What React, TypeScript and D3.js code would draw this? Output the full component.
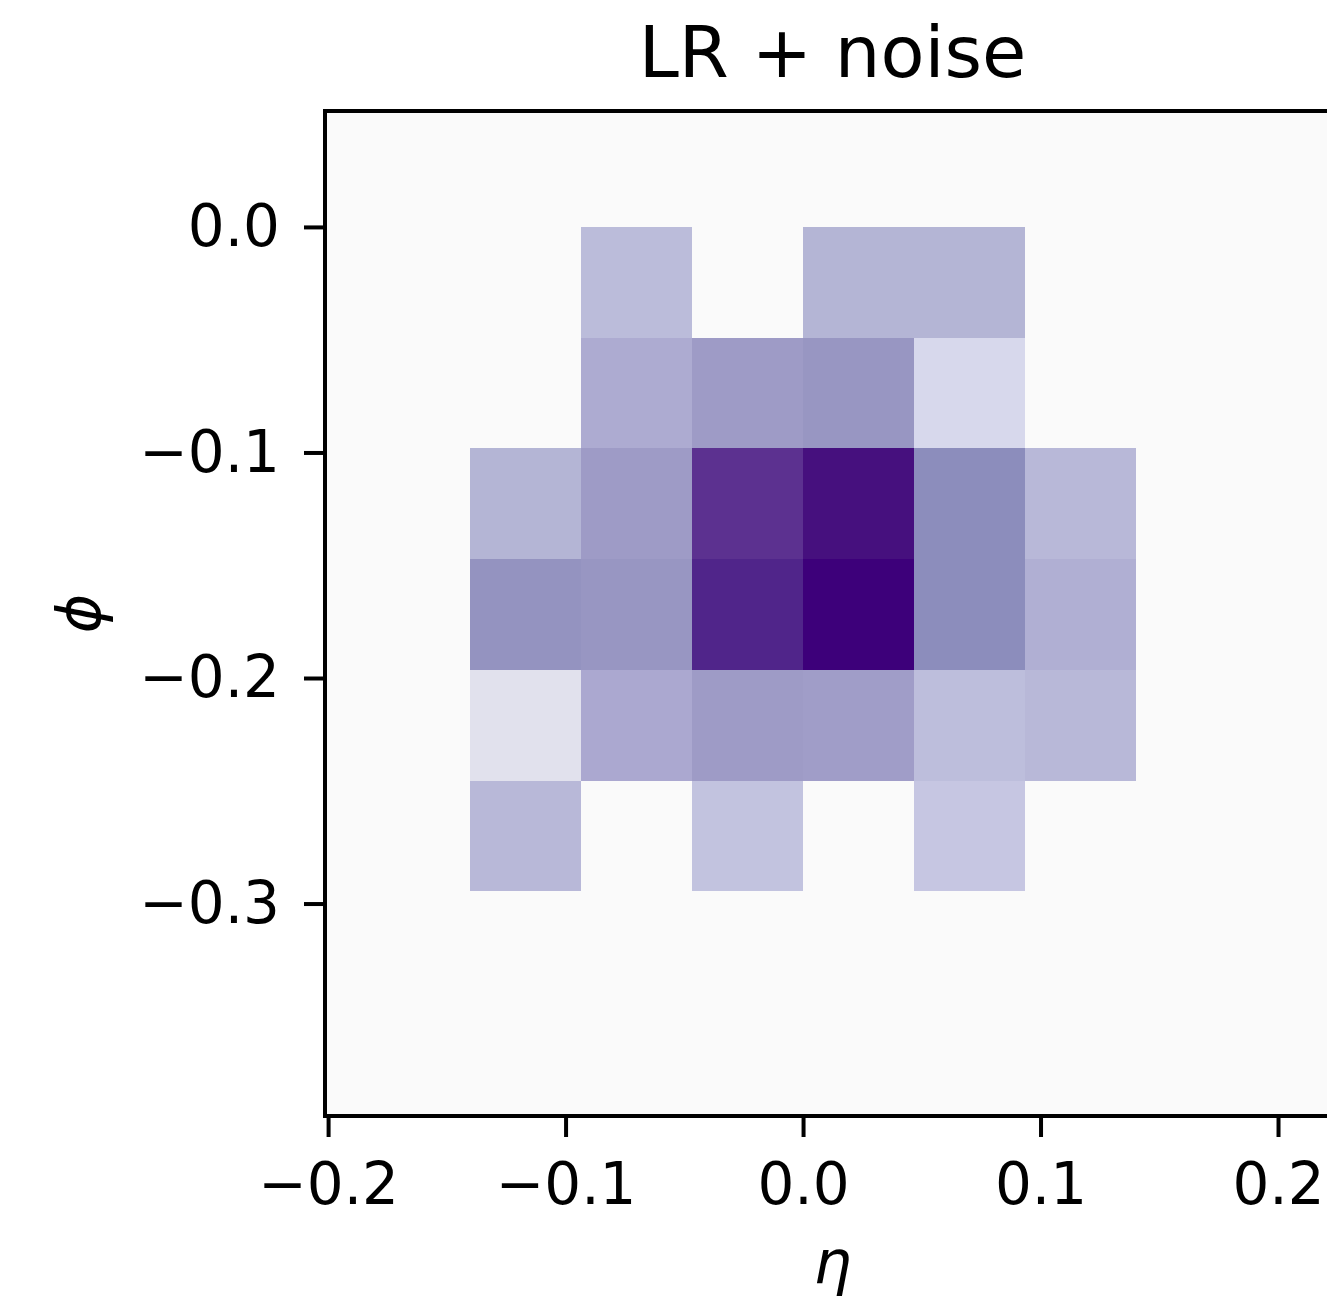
import React, { useRef, useEffect } from 'react';
import * as d3 from 'd3';

// bin centres of the histogram (eta across, phi down)
const etaCenters = [-0.117, -0.070, -0.0235, 0.0233, 0.070, 0.117];
const phiCenters = [-0.0245, -0.0736, -0.1227, -0.1718, -0.2209, -0.27];
const etaBin = 0.0467;
const phiBin = 0.0491;

// normalised intensity, one array per phi row (top to bottom), 0 = empty bin
const row0 = [0, 0.36, 0, 0.4, 0.4, 0];
const row1 = [0, 0.48, 0.57, 0.6, 0.2, 0];
const row2 = [0.4, 0.57, 0.8, 0.94, 0.66, 0.38];
const row3 = [0.62, 0.6, 0.88, 1.0, 0.66, 0.45];
const row4 = [0.1, 0.5, 0.57, 0.56, 0.35, 0.38];
const row5 = [0.38, 0, 0.32, 0, 0.3, 0];
const intensity = [row0, row1, row2, row3, row4, row5];

const xTicks = [-0.2, -0.1, 0.0, 0.1, 0.2];
const yTicks = [0.0, -0.1, -0.2, -0.3];
const etaRange = [-0.2013, 0.2261];
const phiRange = [-0.3942, 0.0514];

const title = 'LR + noise';
const xLabel = 'η';
const yLabel = 'ϕ';

const App: React.FC = () => {
  const svgRef = useRef<SVGSVGElement>(null);

  useEffect(() => {
    if (!svgRef.current) return;
    const root = d3.select(svgRef.current);
    root.selectAll('*').remove();

    const margin = { top: 111, left: 325 };
    const width = 1015;
    const height = 1005;
    const font = 'DejaVu Sans, sans-serif';

    const x = d3.scaleLinear().domain(etaRange).range([0, width]);
    const y = d3.scaleLinear().domain(phiRange).range([height, 0]);

    const colour = d3
      .scaleLinear<string>()
      .domain([0, 0.1, 0.2, 0.3, 0.4, 0.5, 0.6, 0.66, 0.8, 0.88, 0.94, 1])
      .range([
        '#fafafa', '#e1e1ed', '#d7d8ec', '#c6c6e2', '#b4b5d5', '#aba8d0',
        '#9896c2', '#8c8dbc', '#5c3190', '#50258a', '#46107e', '#3d007a'
      ])
      .interpolate(d3.interpolateRgb)
      .clamp(true);

    const g = root
      .append('g')
      .attr('transform', 'translate(' + margin.left + ',' + margin.top + ')');

    // background = empty bins
    g.append('rect')
      .attr('width', width)
      .attr('height', height)
      .attr('fill', colour(0));

    const cells = intensity.flatMap((row, i) =>
      row.map((v, j) => ({ eta: etaCenters[j], phi: phiCenters[i], v }))
    ).filter((d) => d.v > 0);

    g.selectAll('rect.cell')
      .data(cells)
      .enter()
      .append('rect')
      .attr('class', 'cell')
      .attr('x', (d) => x(d.eta - etaBin / 2))
      .attr('y', (d) => y(d.phi + phiBin / 2))
      .attr('width', (d) => x(d.eta + etaBin / 2) - x(d.eta - etaBin / 2))
      .attr('height', (d) => y(d.phi - phiBin / 2) - y(d.phi + phiBin / 2))
      .attr('fill', (d) => colour(d.v))
      .attr('shape-rendering', 'crispEdges');

    // X axis
    const xAxis = g
      .append('g')
      .attr('transform', 'translate(0,' + height + ')')
      .call(
        d3.axisBottom(x).tickValues(xTicks).tickFormat(d3.format('.1f'))
          .tickSize(21).tickSizeOuter(0).tickPadding(26)
      );
    // Y axis
    const yAxis = g
      .append('g')
      .call(
        d3.axisLeft(y).tickValues(yTicks).tickFormat(d3.format('.1f'))
          .tickSize(21).tickSizeOuter(0).tickPadding(24)
      );
    [xAxis, yAxis].forEach((a) => {
      a.select('.domain').remove();
      a.selectAll('line').attr('stroke', '#000').attr('stroke-width', 4);
      a.selectAll('text')
        .attr('fill', '#000')
        .style('font-family', font)
        .style('font-size', '58px');
    });

    // frame
    g.append('rect')
      .attr('width', width)
      .attr('height', height)
      .attr('fill', 'none')
      .attr('stroke', '#000')
      .attr('stroke-width', 4);

    // title and axis labels
    root.append('text')
      .attr('x', margin.left + width / 2)
      .attr('y', 77)
      .attr('text-anchor', 'middle')
      .style('font-family', font)
      .style('font-size', '72px')
      .text(title);

    root.append('text')
      .attr('x', margin.left + width / 2)
      .attr('y', 1283)
      .attr('text-anchor', 'middle')
      .style('font-family', font)
      .style('font-style', 'italic')
      .style('font-size', '60px')
      .text(xLabel);

    root.append('text')
      .attr('transform', 'translate(79,' + (margin.top + height / 2) + ') rotate(-90)')
      .attr('text-anchor', 'middle')
      .attr('dominant-baseline', 'central')
      .style('font-family', font)
      .style('font-style', 'italic')
      .style('font-size', '60px')
      .text(yLabel);
  }, []);

  return (
    <svg
      ref={svgRef}
      width={1327}
      height={1300}
      style={{ position: 'absolute', left: 0, top: 0, background: '#fff' }}
    />
  );
};

export default App;
